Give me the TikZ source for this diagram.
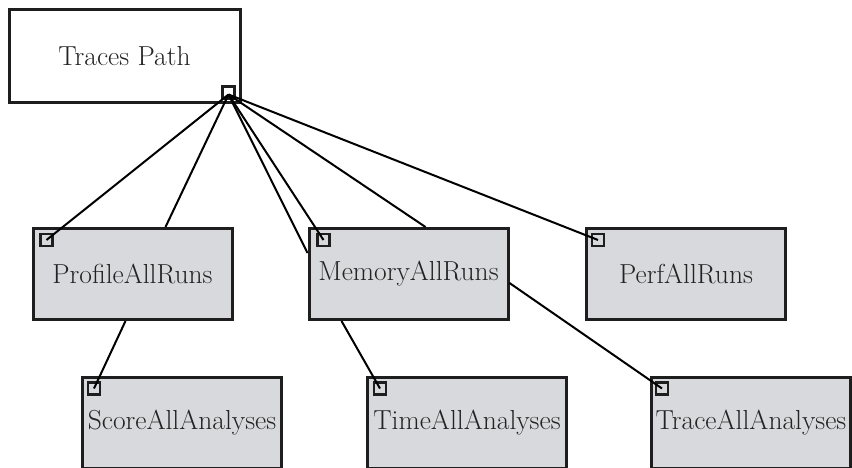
\documentclass[tikz,border=0pt]{standalone}
\usepackage{fontspec}
\usetikzlibrary{positioning}
\definecolor{boxgray}{RGB}{216,217,220}
\definecolor{edgedark}{RGB}{30,30,30}
\definecolor{txtdark}{RGB}{35,35,35}
\begin{document}
\begin{tikzpicture}[x=1pt,y=-1pt,
  bigbox/.style={draw=edgedark, line width=3pt, rectangle, inner sep=0pt,
     minimum width=199pt, minimum height=91pt, fill=boxgray,
     font=\fontsize{27.5}{33}\selectfont, text=txtdark},
  rootbox/.style={bigbox, fill=white, minimum width=231pt, minimum height=93pt},
  port/.style={draw=edgedark, line width=2.8pt, rectangle, inner sep=0pt,
     minimum size=12pt, fill=boxgray},
  rootport/.style={port, fill=white},
  link/.style={draw=black, line width=2pt}]
\useasboundingbox (0,0) rectangle (852,468);
% boxes
\node[rootbox] (tp) at (124.5,56.5) {Traces Path};
\node[bigbox] (pr) at (132.5,274) {ProfileAllRuns};
\node[bigbox] (mem) at (408.5,274) {MemoryAllRuns};
\node[bigbox] (perf) at (686,274) {PerfAllRuns};
\node[bigbox] (score) at (182,422.5) {ScoreAllAnalyses};
\node[bigbox] (time) at (467,422.5) {TimeAllAnalyses};
\node[bigbox] (trace) at (751,422.5) {TraceAllAnalyses};
% ports
\node[rootport] (tpP) at ([xshift=-13pt,yshift=12pt]tp.south east) {};
\node[port] (prP) at ([xshift=15pt,yshift=-13pt]pr.north west) {};
\node[port] (memP) at ([xshift=16pt,yshift=-13pt]mem.north west) {};
\node[port] (perfP) at ([xshift=13pt,yshift=-13pt]perf.north west) {};
\node[port] (scoreP) at ([xshift=13pt,yshift=-13pt]score.north west) {};
\node[port] (timeP) at ([xshift=14pt,yshift=-13pt]time.north west) {};
\node[port] (traceP) at ([xshift=12pt,yshift=-13pt]trace.north west) {};
% attachment points
\coordinate (hub) at ([yshift=-2pt]tpP.center);
\coordinate (prTop) at ([xshift=134pt]pr.north west);
\coordinate (memLeft) at ([yshift=21pt]mem.west);
\coordinate (memTop) at ([xshift=118pt]mem.north west);
\coordinate (memRight) at ([yshift=-9pt]mem.east);
\coordinate (prBot) at ([xshift=94pt]pr.south west);
\coordinate (memBot) at ([xshift=34pt]mem.south west);
% connectors
\draw[link] (hub) -- (prP.center);
\draw[link] (hub) -- (prTop);
\draw[link] (hub) -- (memLeft);
\draw[link] (hub) -- (memP.center);
\draw[link] (hub) -- (memTop);
\draw[link] (hub) -- (perfP.center);
\draw[link] (prBot) -- (scoreP.center);
\draw[link] (memBot) -- (timeP.center);
\draw[link] (memRight) -- (traceP.center);
\end{tikzpicture}
\end{document}
